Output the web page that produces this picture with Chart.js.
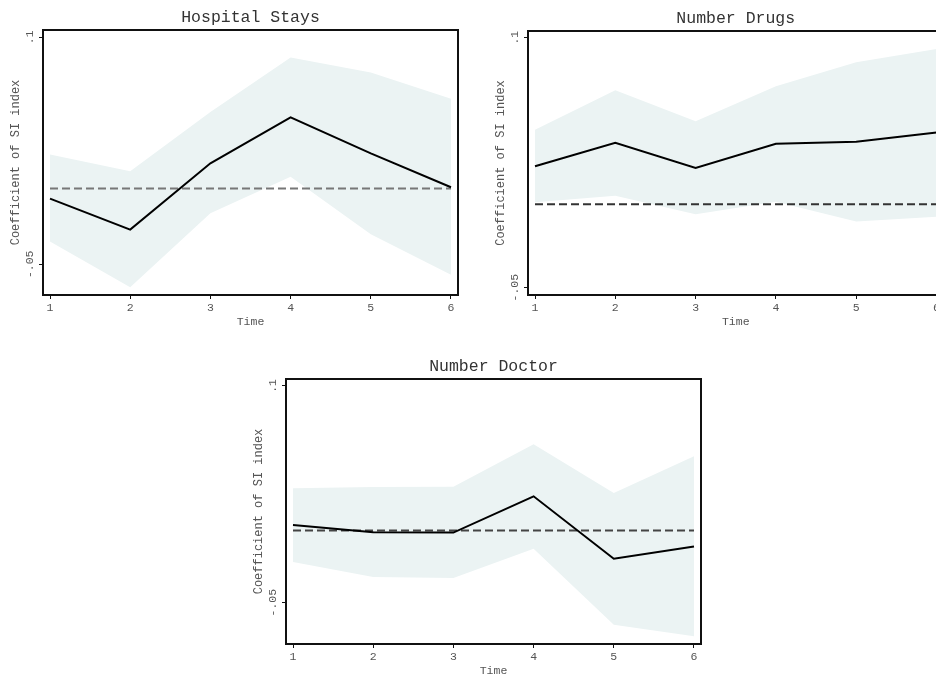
<!DOCTYPE html>
<html>
<head>
<meta charset="utf-8">
<script src="https://cdn.jsdelivr.net/npm/chart.js@4"></script>
<style>
  html, body { margin: 0; padding: 0; background: #fff; overflow: hidden; width: 936px; height: 677px; }
  .panel { position: absolute; }
</style>
</head>
<body>
<div class="panel" style="left:0px;top:0px;width:470px;height:335px"><canvas id="hospital"></canvas></div>
<div class="panel" style="left:466px;top:0px;width:490px;height:335px"><canvas id="drugs"></canvas></div>
<div class="panel" style="left:240px;top:350px;width:470px;height:334px"><canvas id="doctor"></canvas></div>
<script>
const timePoints = [1, 2, 3, 4, 5, 6];
const xTickValues = [1, 2, 3, 4, 5, 6];
const yTickValues = [-0.05, 0.1];
const yTickLabels = ['-.05', '.1'];
const zeroLine = [0, 0, 0, 0, 0, 0];

const hospitalCoef  = [-0.0066, -0.0271, 0.0167, 0.0471, 0.0233, 0.0009];
const hospitalUpper = [0.0225, 0.0115, 0.0507, 0.0866, 0.0767, 0.0593];
const hospitalLower = [-0.0350, -0.0652, -0.0163, 0.0079, -0.0302, -0.0570];

const drugsCoef  = [0.0229, 0.0369, 0.0219, 0.0363, 0.0375, 0.0431];
const drugsUpper = [0.0447, 0.0684, 0.0499, 0.0708, 0.0852, 0.0932];
const drugsLower = [0.0013, 0.0051, -0.0060, 0.0015, -0.0103, -0.0075];

const doctorCoef  = [0.0037, -0.0013, -0.0015, 0.0236, -0.0196, -0.0111];
const doctorUpper = [0.0292, 0.0301, 0.0303, 0.0596, 0.0259, 0.0513];
const doctorLower = [-0.0218, -0.0322, -0.0329, -0.0126, -0.0653, -0.0733];

const FONT = '"Liberation Mono", "DejaVu Sans Mono", monospace';
const BAND = '#ebf3f3';

function pts(arr) {
  return timePoints.map((t, i) => ({ x: t, y: arr[i] }));
}

// frame round the plot area plus the panel title
const framePlugin = {
  id: 'frame',
  afterDraw(chart, args, opts) {
    const { ctx, chartArea: a } = chart;
    ctx.save();
    ctx.strokeStyle = '#111';
    ctx.lineWidth = 2;
    ctx.strokeRect(a.left, a.top, a.right - a.left, a.bottom - a.top);
    ctx.fillStyle = '#333';
    ctx.font = '16.5px ' + FONT;
    ctx.textAlign = 'center';
    ctx.textBaseline = 'middle';
    ctx.fillText(opts.title, (a.left + a.right) / 2, a.top - 12);
    ctx.restore();
  }
};

function makePanel(id, title, coef, upper, lower, yMin, yMax, pad, zeroColor) {
  new Chart(document.getElementById(id), {
    type: 'line',
    data: {
      datasets: [
        { data: pts(upper), borderWidth: 0, pointRadius: 0, fill: false, order: 3 },
        { data: pts(lower), borderWidth: 0, pointRadius: 0, fill: '-1', backgroundColor: BAND, order: 2 },
        { data: pts(zeroLine), borderColor: zeroColor, borderWidth: 2, borderDash: [8, 4], pointRadius: 0, fill: false, order: 1 },
        { data: pts(coef), borderColor: '#000', borderWidth: 2, pointRadius: 0, fill: false, tension: 0, order: 0 }
      ]
    },
    options: {
      responsive: true,
      maintainAspectRatio: false,
      animation: false,
      layout: { padding: pad },
      plugins: {
        legend: { display: false },
        tooltip: { enabled: false },
        frame: { title: title }
      },
      scales: {
        x: {
          type: 'linear',
          min: 0.9127,
          max: 6.0873,
          afterBuildTicks: s => { s.ticks = xTickValues.map(v => ({ value: v })); },
          afterFit: s => { s.height = 40; },
          grid: { drawOnChartArea: false, tickLength: 4, tickColor: '#111', lineWidth: 1 },
          border: { display: false },
          ticks: { color: '#555', font: { family: FONT, size: 11.5 }, padding: 2, maxRotation: 0 },
          title: { display: true, text: 'Time', color: '#555', font: { family: FONT, size: 11.5 }, padding: { top: 0, bottom: 6 } }
        },
        y: {
          min: yMin,
          max: yMax,
          afterBuildTicks: s => { s.ticks = yTickValues.map(v => ({ value: v })); },
          afterFit: s => { s.width = 43; },
          grid: { drawOnChartArea: false, tickLength: 4, tickColor: '#111', lineWidth: 1 },
          border: { display: false },
          ticks: {
            color: '#555',
            font: { family: FONT, size: 11.5 },
            minRotation: 90,
            maxRotation: 90,
            crossAlign: 'center',
            padding: -5,
            callback: v => yTickLabels[yTickValues.indexOf(v)]
          },
          title: { display: true, text: 'Coefficient of SI index', color: '#555', font: { family: FONT, size: 12 }, padding: { top: 9, bottom: 0 } }
        }
      }
    },
    plugins: [framePlugin]
  });
}

makePanel('hospital', 'Hospital Stays', hospitalCoef, hospitalUpper, hospitalLower,
  -0.0703, 0.1048, { left: 0, right: 12, top: 30, bottom: 0 }, '#777');
makePanel('drugs', 'Number Drugs', drugsCoef, drugsUpper, drugsLower,
  -0.0544, 0.104, { left: 19, right: 12.5, top: 31, bottom: 0 }, '#333');
makePanel('doctor', 'Number Doctor', doctorCoef, doctorUpper, doctorLower,
  -0.0786, 0.1048, { left: 3, right: 9, top: 29, bottom: 0 }, '#444');
</script>
</body>
</html>
